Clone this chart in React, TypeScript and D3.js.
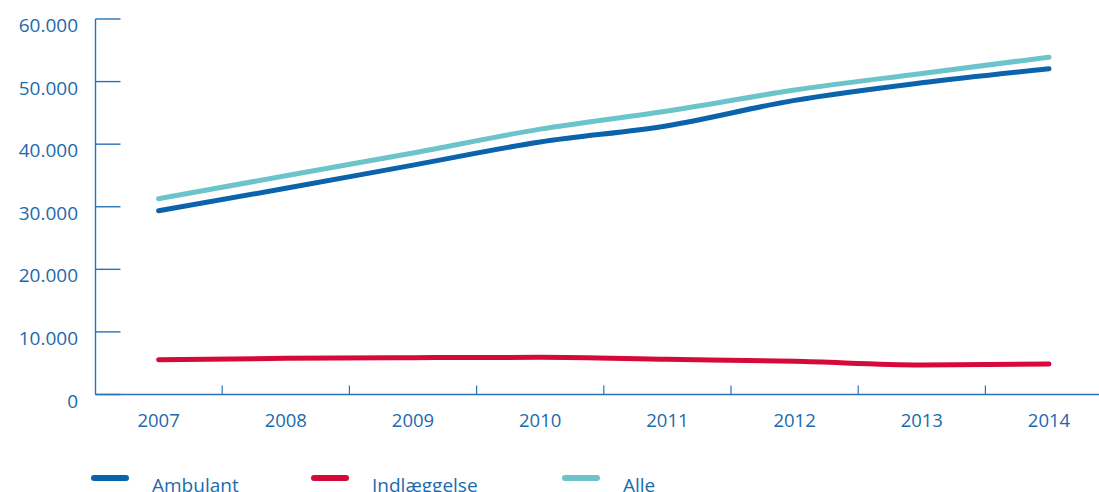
import React from "react";
import * as d3 from "d3";

const years = ["2007", "2008", "2009", "2010", "2011", "2012", "2013", "2014"];
const ambulant = [29350, 32950, 36650, 40350, 42950, 47000, 49800, 52050];
const indlaeggelse = [5560, 5780, 5880, 5940, 5620, 5300, 4720, 4870];
const alle = [31280, 34950, 38600, 42400, 45300, 48650, 51300, 53900];
const yTicks = [0, 10000, 20000, 30000, 40000, 50000, 60000];
const yTickLabels = ["0", "10.000", "20.000", "30.000", "40.000", "50.000", "60.000"];
const seriesNames = ["Ambulant", "Indlæggelse", "Alle"];
const seriesColors = ["#0a63ab", "#d60a3a", "#6cc4cb"];

const W = 1099;
const H = 492;
const FONT = "'Open Sans', 'Noto Sans', sans-serif";
const AXIS = "#2a72b5";
const TEXT = "#1c6aae";

export default function App() {
  const x = d3.scaleBand<string>().domain(years).range([95, 95 + 8 * 127.2]);
  const y = d3.scaleLinear().domain([0, 60000]).range([394.5, 19]);
  const cx = (i: number) => (x(years[i]) as number) + x.bandwidth() / 2;
  const line = d3
    .line<number>()
    .x((_, i) => cx(i))
    .y((d) => y(d))
    .curve(d3.curveMonotoneX);
  const data = [ambulant, indlaeggelse, alle];
  const drawOrder = [2, 0, 1];
  const legendX = [92, 312, 563];
  const x0 = 95.5;
  const yAxis = y(0);

  return (
    <svg
      width={W}
      height={H}
      style={{ position: "absolute", left: 0, top: 0, background: "#fff" }}
      fontFamily={FONT}
    >
      {/* y axis */}
      <line x1={x0} x2={x0} y1={y(60000)} y2={yAxis} stroke={AXIS} strokeWidth={1.4} />
      {yTicks.map((t, i) => (
        <g key={t}>
          <line x1={x0} x2={x0 + 25} y1={y(t)} y2={y(t)} stroke={AXIS} strokeWidth={1.4} />
          <text x={78} y={y(t) + 13} textAnchor="end" fontSize={19} fill={TEXT}>
            {yTickLabels[i]}
          </text>
        </g>
      ))}
      {/* x axis */}
      <line x1={x0} x2={W} y1={yAxis} y2={yAxis} stroke={AXIS} strokeWidth={1.4} />
      {years.slice(1).map((yr) => (
        <line
          key={yr}
          x1={x(yr) as number}
          x2={x(yr) as number}
          y1={yAxis}
          y2={yAxis - 9}
          stroke={AXIS}
          strokeWidth={1.2}
        />
      ))}
      {years.map((yr, i) => (
        <text key={yr} x={cx(i)} y={426.5} textAnchor="middle" fontSize={18.5} fill={TEXT}>
          {yr}
        </text>
      ))}
      {/* lines */}
      {drawOrder.map((s) => (
        <path
          key={s}
          d={line(data[s]) || ""}
          fill="none"
          stroke={seriesColors[s]}
          strokeWidth={5}
          strokeLinecap="round"
          strokeLinejoin="round"
        />
      ))}
      {/* legend */}
      {seriesNames.map((n, i) => (
        <g key={n}>
          <line
            x1={legendX[i] + 2}
            x2={legendX[i] + 34}
            y1={478}
            y2={478}
            stroke={seriesColors[i]}
            strokeWidth={6}
            strokeLinecap="round"
          />
          <text x={legendX[i] + 60} y={491.5} fontSize={19} fill={TEXT}>
            {n}
          </text>
        </g>
      ))}
    </svg>
  );
}
